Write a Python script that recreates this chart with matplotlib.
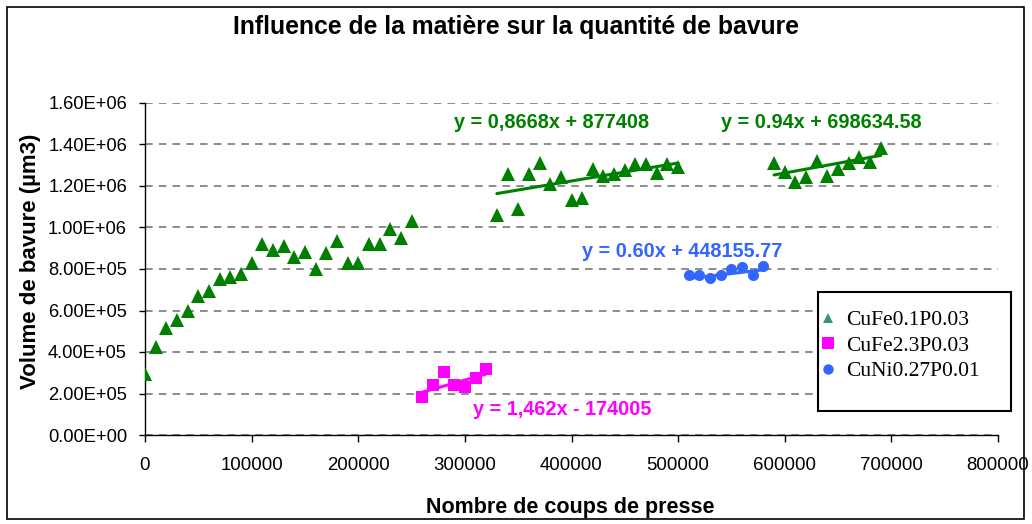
import matplotlib
matplotlib.use("Agg")
import matplotlib.pyplot as plt
from matplotlib.lines import Line2D
from matplotlib.patches import Rectangle
from matplotlib.ticker import FuncFormatter, MultipleLocator

# --- data -------------------------------------------------------------
# CuFe0.1P0.03 : first campaign (no trend line)
cufe01_a_x = [0, 10000, 20000, 30000, 40000, 50000, 60000, 70000, 80000, 90000,
              100000, 110000, 120000, 130000, 140000, 150000, 160000, 170000,
              180000, 190000, 200000, 210000, 220000, 230000, 240000, 250000]
cufe01_a_y = [295000, 425000, 516000, 556000, 598000, 668000, 695000, 752000,
              762000, 777000, 828000, 921000, 892000, 912000, 858000, 884000,
              802000, 877000, 937000, 828000, 828000, 921000, 921000, 992000,
              947000, 1030000]

# CuFe0.1P0.03 : second campaign
cufe01_b_x = [330000, 340000, 350000, 360000, 370000, 380000, 390000, 400000,
              410000, 420000, 430000, 440000, 450000, 460000, 470000, 480000,
              490000, 500000]
cufe01_b_y = [1058000, 1257000, 1087000, 1257000, 1311000, 1210000, 1242000,
              1133000, 1141000, 1283000, 1248000, 1258000, 1277000, 1305000,
              1305000, 1264000, 1305000, 1293000]
cufe01_b_fit = (0.8668, 877408)

# CuFe0.1P0.03 : third campaign
cufe01_c_x = [590000, 600000, 610000, 620000, 630000, 640000, 650000, 660000,
              670000, 680000, 690000]
cufe01_c_y = [1312000, 1267000, 1221000, 1245000, 1320000, 1248000, 1280000,
              1312000, 1341000, 1317000, 1382000]
cufe01_c_fit = (0.94, 698634.58)

# CuFe2.3P0.03
cufe23_x = [260000, 270000, 280000, 290000, 300000, 310000, 320000]
cufe23_y = [185000, 241000, 302000, 241000, 233000, 276000, 320000]
cufe23_fit = (1.462, -174005)

# CuNi0.27P0.01
cuni_x = [510000, 520000, 530000, 540000, 550000, 560000, 570000, 580000]
cuni_y = [770000, 770000, 758000, 771000, 798000, 808000, 771000, 816000]
cuni_fit = (0.60, 448155.77)

series_labels = ["CuFe0.1P0.03", "CuFe2.3P0.03", "CuNi0.27P0.01"]
eq_labels = ["y = 0,8668x + 877408", "y = 0.94x + 698634.58",
             "y = 1,462x - 174005", "y = 0.60x + 448155.77"]

title = "Influence de la matière sur la quantité de bavure"
xlabel = "Nombre de coups de presse"
ylabel = "Volume de bavure (µm3)"

# --- style ------------------------------------------------------------
GREEN = "#008000"
MAGENTA = "#FF00FF"
BLUE = "#3366FF"
SANS = "Liberation Sans"
SERIF = "Liberation Serif"

W, H = 1032, 524
fig = plt.figure(figsize=(W / 100, H / 100), dpi=100)
fig.patch.set_facecolor("white")

ax = fig.add_axes([145 / W, 1 - 435 / H, (998 - 145) / W, (435 - 103) / H])
ax.set_xlim(0, 800000)
ax.set_ylim(0, 1600000)
ax.xaxis.set_major_locator(MultipleLocator(100000))
ax.yaxis.set_major_locator(MultipleLocator(200000))
ax.yaxis.set_major_formatter(FuncFormatter(lambda v, p: "{:.2E}".format(v)))
ax.xaxis.set_major_formatter(FuncFormatter(lambda v, p: "{:d}".format(int(round(v)))))

for side in ("top", "right"):
    ax.spines[side].set_visible(False)
for side in ("left", "bottom"):
    ax.spines[side].set_color("black")
    ax.spines[side].set_linewidth(1.0)

ax.tick_params(axis="y", direction="out", length=4, width=1, pad=9,
               labelsize=13.2)
ax.tick_params(axis="x", direction="out", length=5, width=1, pad=11,
               labelsize=13.4)
for lab in ax.get_xticklabels() + ax.get_yticklabels():
    lab.set_fontfamily(SANS)

ax.set_axisbelow(True)
ax.yaxis.grid(True, color="#6e6e6e", linewidth=1.1, linestyle=(0, (5, 4)))
ax.xaxis.grid(False)

# --- marks ------------------------------------------------------------
tri = dict(marker="^", linestyle="none", markersize=10.5, color=GREEN,
           markeredgewidth=0)
ax.plot(cufe01_a_x, cufe01_a_y, **tri, zorder=3)
ax.plot(cufe01_b_x, cufe01_b_y, **tri, zorder=3)
ax.plot(cufe01_c_x, cufe01_c_y, **tri, zorder=3)
ax.plot(cufe23_x, cufe23_y, marker="s", linestyle="none", markersize=8,
        color=MAGENTA, markeredgewidth=0, zorder=3)
ax.plot(cuni_x, cuni_y, marker="o", linestyle="none", markersize=8,
        color=BLUE, markeredgewidth=0, zorder=3)


def trend(xs, fit, color):
    a, b = fit
    x0, x1 = min(xs), max(xs)
    ax.plot([x0, x1], [a * x0 + b, a * x1 + b], color=color, linewidth=2.2,
            solid_capstyle="round", zorder=4)


trend(cufe01_b_x, cufe01_b_fit, GREEN)
trend(cufe01_c_x, cufe01_c_fit, GREEN)
trend(cufe23_x, cufe23_fit, MAGENTA)
trend(cuni_x, cuni_fit, BLUE)

eq_style = dict(fontsize=14.3, fontweight="bold", family=SANS, va="center",
                ha="left", zorder=5)
ax.text(290000, 1505000, eq_labels[0], color=GREEN, **eq_style)
ax.text(540500, 1505000, eq_labels[1], color=GREEN, **eq_style)
ax.text(307500, 125000, eq_labels[2], color=MAGENTA, **eq_style)
ax.text(410000, 882000, eq_labels[3], color=BLUE, **eq_style)

# --- titles -----------------------------------------------------------
fig.text(516 / W, 1 - 27 / H, title, ha="center", va="center",
         fontsize=17.8, fontweight="bold", family=SANS)
fig.text(570 / W, 1 - 507 / H, xlabel, ha="center", va="center",
         fontsize=15.5, fontweight="bold", family=SANS)
fig.text(31 / W, 1 - 261 / H, ylabel, ha="center", va="center",
         rotation=90, fontsize=16, fontweight="bold", family=SANS)

# --- legend -----------------------------------------------------------
fig.patches.append(Rectangle((818 / W, 1 - 411 / H), (1011 - 818) / W,
                             (411 - 292) / H, transform=fig.transFigure,
                             facecolor="white", edgecolor="black",
                             linewidth=1.5, zorder=10))
handles = [
    Line2D([], [], marker="^", linestyle="none", markersize=7,
           color="#339966", markeredgewidth=0),
    Line2D([], [], marker="s", linestyle="none", markersize=8,
           color=MAGENTA, markeredgewidth=0),
    Line2D([], [], marker="o", linestyle="none", markersize=7.5,
           color=BLUE, markeredgewidth=0),
]
leg = fig.legend(handles, series_labels, loc="upper left",
                 bbox_to_anchor=(819 / W, 1 - 310 / H), frameon=False,
                 prop={"family": SERIF, "size": 15.5}, handlelength=0.8,
                 handletextpad=0.45, labelspacing=0.26, borderaxespad=0,
                 borderpad=0)
leg.set_zorder(11)

# --- outer border -----------------------------------------------------
fig.patches.append(Rectangle((7 / W, 1 - 519 / H), (1024 - 7) / W,
                             (519 - 7) / H, transform=fig.transFigure,
                             facecolor="none", edgecolor="black",
                             linewidth=1.2, zorder=12))

fig.savefig("out.png", dpi=100)
